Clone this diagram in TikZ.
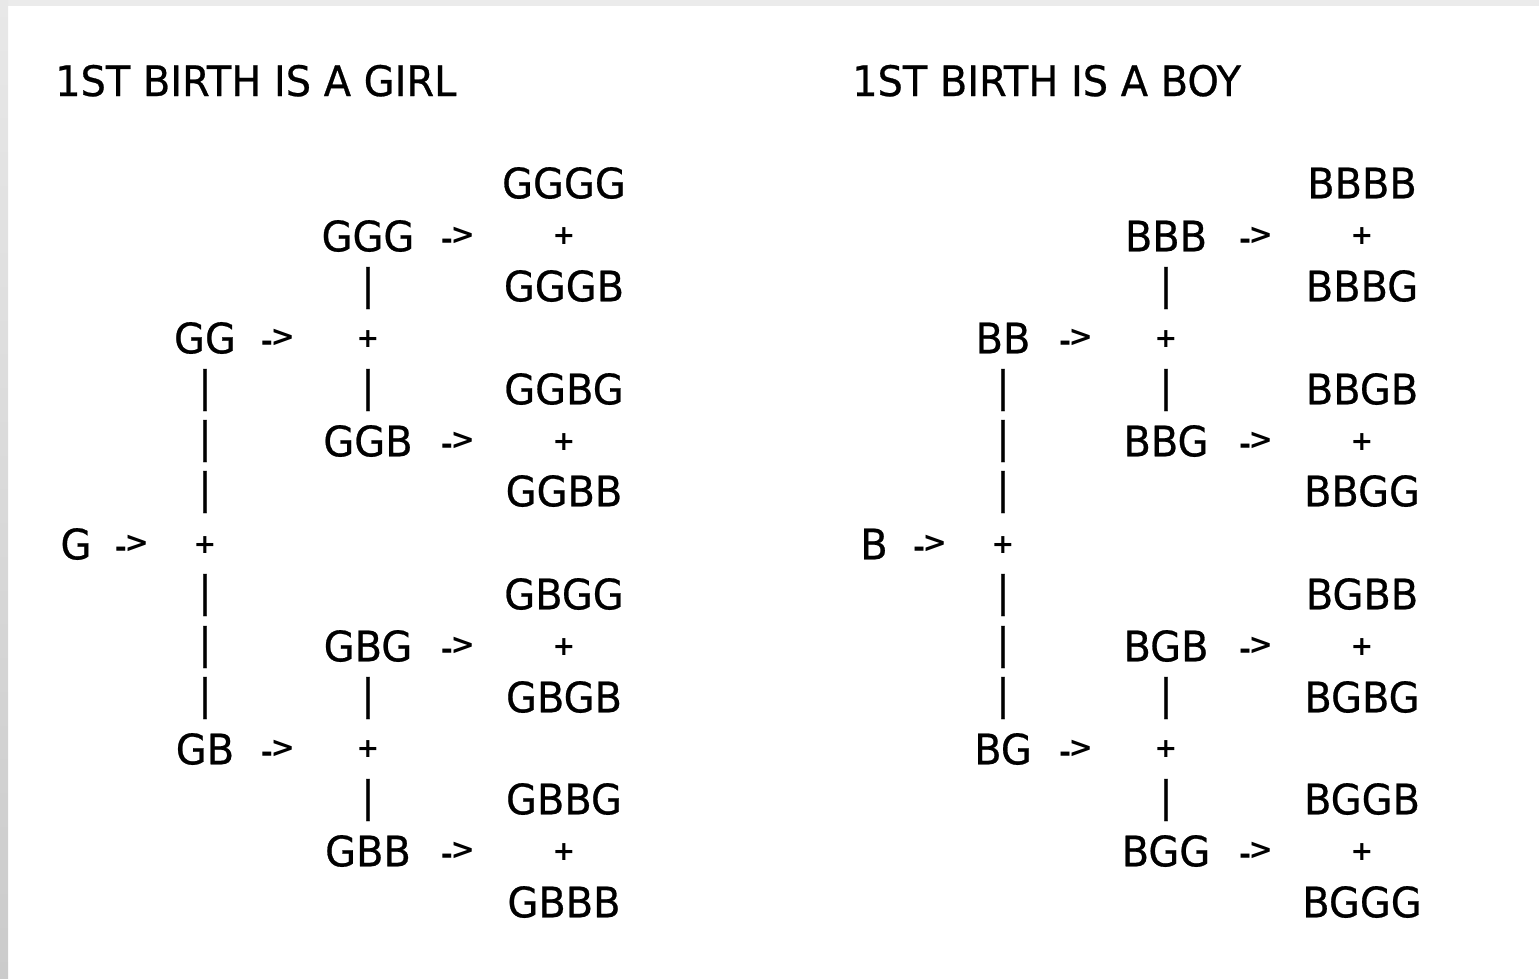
\documentclass[tikz,border=0pt]{standalone}
\usepackage{fontspec}
\setmainfont{DejaVu Sans}[FakeStretch=0.95,FakeBold=0.6]
\newfontfamily\markfont{DejaVu Sans Bold}
\definecolor{bandtop}{HTML}{EBEBEB}
\definecolor{bandlight}{HTML}{E8E8E8}
\definecolor{banddark}{HTML}{CBCBCB}
\newcommand\bodyfont{\fontsize{42}{50}\selectfont}
\newcommand\plusfont{\markfont\fontsize{27}{30}\selectfont}
\newcommand\arrowfont{\markfont\fontsize{29}{34}\selectfont}
% text arrow with its dash set low, as in the tree listing
\newcommand\txtarrow{\raisebox{-0.17em}{-}\kern-0.08em>}

% One decision tree of four births: #1 node prefix, #2 first child, #3 other sex, #4 horizontal offset
\newcommand\drawtree[4]{%
  \begin{scope}[xshift=#4]
    % fourth-birth outcomes
    \node[lbl] (#1ffff) at (564,183) {#2#2#2#2};
    \node[plusmark] (#1fffp) at (564,236) {+};
    \node[lbl] (#1fffo) at (564,286) {#2#2#2#3};
    \node[lbl] (#1ffof) at (564,389) {#2#2#3#2};
    \node[plusmark] (#1ffop) at (564,442) {+};
    \node[lbl] (#1ffoo) at (564,491) {#2#2#3#3};
    \node[lbl] (#1foff) at (564,594) {#2#3#2#2};
    \node[plusmark] (#1fofp) at (564,647) {+};
    \node[lbl] (#1fofo) at (564,697) {#2#3#2#3};
    \node[lbl] (#1foof) at (564,799) {#2#3#3#2};
    \node[plusmark] (#1foop) at (564,852) {+};
    \node[lbl] (#1fooo) at (564,902) {#2#3#3#3};
    % third-birth outcomes
    \node[lbl] (#1fff) at (368,236) {#2#2#2};
    \node[arrowmark] (#1fffa) at (458,238) {\txtarrow};
    \node[lbl] (#1ffb1) at (368,288) {|};
    \node[plusmark] (#1ffp) at (368,339) {+};
    \node[lbl] (#1ffb2) at (368,390) {|};
    \node[lbl] (#1ffo) at (368,441) {#2#2#3};
    \node[arrowmark] (#1ffoa) at (458,443) {\txtarrow};
    \node[lbl] (#1fof) at (368,646) {#2#3#2};
    \node[arrowmark] (#1fofa) at (458,648) {\txtarrow};
    \node[lbl] (#1fob1) at (368,698) {|};
    \node[plusmark] (#1fop) at (368,749) {+};
    \node[lbl] (#1fob2) at (368,800) {|};
    \node[lbl] (#1foo) at (368,851) {#2#3#3};
    \node[arrowmark] (#1fooa) at (458,853) {\txtarrow};
    % second-birth outcomes
    \node[lbl] (#1ff) at (205,338) {#2#2};
    \node[arrowmark] (#1ffa) at (278,340) {\txtarrow};
    \node[lbl] (#1fb1) at (205,390) {|};
    \node[lbl] (#1fb2) at (205,441) {|};
    \node[lbl] (#1fb3) at (205,492) {|};
    \node[plusmark] (#1fp) at (205,545) {+};
    \node[lbl] (#1fb4) at (205,595) {|};
    \node[lbl] (#1fb5) at (205,647) {|};
    \node[lbl] (#1fb6) at (205,698) {|};
    \node[lbl] (#1fo) at (205,749) {#2#3};
    \node[arrowmark] (#1foa) at (278,751) {\txtarrow};
    % first birth
    \node[lbl] (#1f) at (76,544) {#2};
    \node[arrowmark] (#1fa) at (132,546) {\txtarrow};
  \end{scope}}

\begin{document}
\begin{tikzpicture}[x=1pt,y=-1pt,
  lbl/.style={inner sep=0pt,anchor=center,font=\bodyfont},
  plusmark/.style={lbl,font=\plusfont},
  arrowmark/.style={lbl,font=\arrowfont},
  heading/.style={inner sep=0pt,anchor=base west,font=\bodyfont}]
  \useasboundingbox (0,0) rectangle (1539,978);
  % window edges
  \fill[bandtop] (0,0) rectangle (1539,6);
  \shade[top color=bandlight,bottom color=banddark] (0,0) rectangle (8,978);

  \node[heading] (girltitle) at (55,96) {1ST BIRTH IS A GIRL};
  \node[heading] (boytitle) at (852,96) {1ST BIRTH IS A BOY};

  \drawtree{L}{G}{B}{0}
  \drawtree{R}{B}{G}{798}
\end{tikzpicture}
\end{document}
